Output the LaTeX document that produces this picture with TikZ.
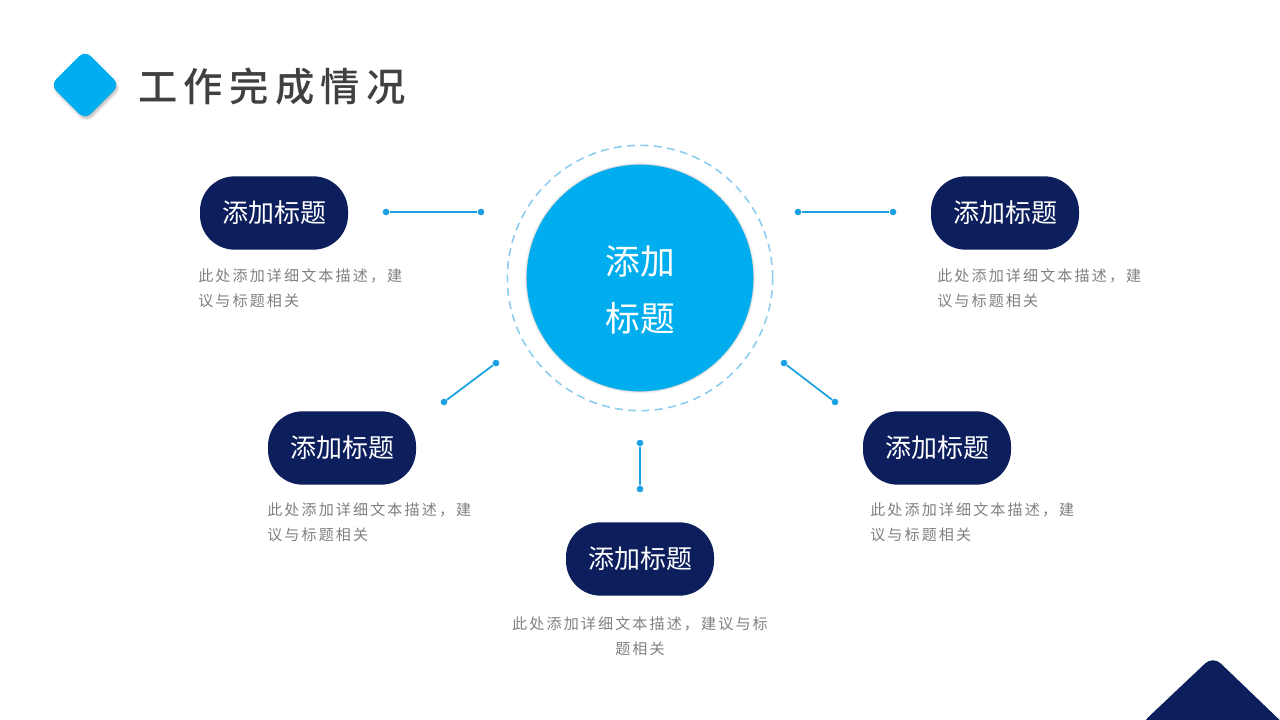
\documentclass[tikz,border=0pt]{standalone}
\usepackage{fontspec}
\newfontfamily\cjk{Noto Sans CJK SC}
\newfontfamily\cjkdesc[LetterSpace=14]{Noto Sans CJK SC}
\newfontfamily\cjktitle[LetterSpace=16]{Noto Sans CJK SC Medium}
\usetikzlibrary{shapes.geometric,shadows.blur}
\definecolor{cblue}{RGB}{0,174,239}
\definecolor{navy}{RGB}{12,30,92}
\definecolor{lineblue}{RGB}{27,161,226}
\definecolor{dashblue}{RGB}{140,205,240}
\definecolor{tgray}{RGB}{64,64,64}
\definecolor{dgray}{RGB}{128,128,128}
\tikzset{
 pill/.style={rounded corners=26pt,fill=navy,text=white,minimum width=111pt,minimum height=55pt,font=\cjk\fontsize{19.5}{22}\selectfont,inner sep=0pt},
 desc/.style={text=dgray,font=\cjkdesc\fontsize{11.3}{19}\selectfont,inner sep=0pt,align=left,anchor=north west},
 conn/.style={lineblue,line width=1.3pt},
 dot/.style={circle,fill=lineblue,inner sep=0pt,minimum size=5pt}
}
\begin{document}
\begin{tikzpicture}[x=0.75pt,y=-0.75pt]
\useasboundingbox (0,0) rectangle (1280,720);
\node[diamond,fill=cblue,minimum width=52pt,minimum height=52pt,rounded corners=6pt,blur shadow={shadow blur steps=5,shadow xshift=1pt,shadow yshift=-2pt,shadow opacity=25}] (dia) at (85,85) {};
\node[anchor=west,text=tgray,font=\cjktitle\fontsize{29.5}{32}\selectfont,inner sep=0pt] (title) at (138,87) {工作完成情况};
\draw[dashblue,dashed,line width=1.2pt,dash pattern=on 6pt off 4pt] (640,278) circle[radius=99.5pt];
\node[circle,fill=cblue,minimum size=170pt,inner sep=0pt,blur shadow={shadow blur steps=8,shadow xshift=0pt,shadow yshift=0pt,shadow opacity=30}] (c) at (640,278) {};
\node[text=white,align=center,font=\cjk\fontsize{26}{43}\selectfont,inner sep=0pt] (ct) at (640,290) {添加\\标题};
\node[pill] (p1) at (274,213) {添加标题};
\node[pill] (p2) at (1005,213) {添加标题};
\node[pill] (p3) at (342,448) {添加标题};
\node[pill] (p4) at (937,448) {添加标题};
\node[pill] (p5) at (640,559) {添加标题};
\node[desc] (d1) at (198,268) {此处添加详细文本描述，建\\议与标题相关};
\node[desc] (d2) at (937,268) {此处添加详细文本描述，建\\议与标题相关};
\node[desc] (d3) at (267,502) {此处添加详细文本描述，建\\议与标题相关};
\node[desc] (d4) at (870,502) {此处添加详细文本描述，建\\议与标题相关};
\node[desc,align=center,anchor=north] (d5) at (640,616) {此处添加详细文本描述，建议与标\\题相关};
\node[dot] (a1) at (386,212) {}; \node[dot] (b1) at (481,212) {};
\node[dot] (a2) at (798,212) {}; \node[dot] (b2) at (893,212) {};
\node[dot] (a3) at (496,363) {}; \node[dot] (b3) at (444,402) {};
\node[dot] (a4) at (784,363) {}; \node[dot] (b4) at (835,402) {};
\node[dot] (a5) at (640,443) {}; \node[dot] (b5) at (640,489) {};
\foreach \i in {1,...,5} \draw[conn] (a\i) -- (b\i);
\fill[navy,rounded corners=8pt] (1140,725) -- (1213,656) -- (1290,730) -- (1290,725) -- cycle;
\end{tikzpicture}
\end{document}
